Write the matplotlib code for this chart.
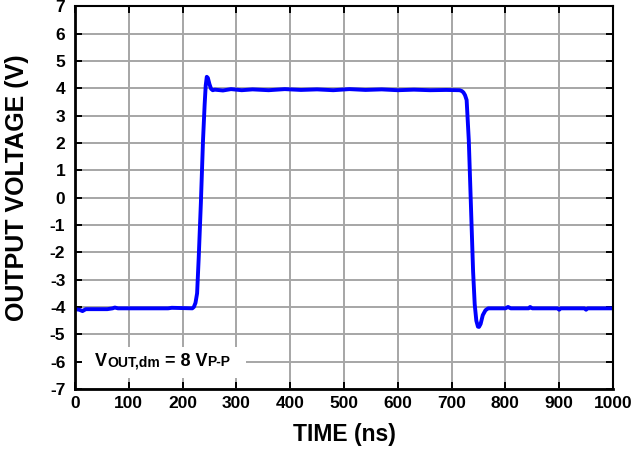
import numpy as np
import matplotlib.pyplot as plt
from matplotlib.patches import Rectangle

plt.rcParams['font.family'] = ['Liberation Sans', 'DejaVu Sans']
plt.rcParams['font.weight'] = 'bold'

# waveform (time in ns, volts)
time_ns = [0, 8, 14, 20, 60, 70, 74, 80, 140, 173, 180, 218, 221, 224, 227,
           230, 234, 238, 241, 243, 245, 247, 250, 253, 256, 260, 275, 290,
           310, 330, 360, 390, 420, 450, 480, 510, 540, 570, 600, 630, 660,
           690, 715, 719, 722, 725, 728, 732, 736, 740, 743, 746, 749, 751,
           754, 758, 763, 768, 800, 805, 810, 843, 846, 850, 897, 900, 903,
           947, 950, 953, 1000]
volts = [-4.08, -4.1, -4.15, -4.08, -4.08, -4.05, -4.02, -4.05, -4.05,
         -4.05, -4.03, -4.05, -4.0, -3.85, -3.5, -2.2, -0.2, 2.1, 3.4, 4.1,
         4.42, 4.38, 4.15, 3.98, 3.93, 3.95, 3.92, 3.97, 3.93, 3.96, 3.93,
         3.97, 3.94, 3.96, 3.93, 3.97, 3.94, 3.96, 3.93, 3.95, 3.93, 3.94,
         3.93, 3.9, 3.85, 3.75, 3.57, 2.1, -0.3, -2.7, -3.9, -4.5, -4.72,
         -4.73, -4.62, -4.3, -4.12, -4.05, -4.05, -4.0, -4.05, -4.05, -4.0,
         -4.05, -4.05, -4.1, -4.05, -4.05, -4.1, -4.05, -4.05]

x_ticks = list(range(0, 1001, 100))
y_ticks = list(range(-7, 8))

fig = plt.figure(figsize=(6.43, 4.5), dpi=100)
ax = fig.add_axes([0.1166, 0.1356, 0.8367, 0.8504])

ax.plot(time_ns, volts, color='#0000ff', lw=2.8, zorder=3,
        solid_joinstyle='round')

ax.set_xlim(0, 1000)
ax.set_ylim(-7, 7)
ax.set_xticks(x_ticks)
ax.set_xticklabels([str(v) for v in x_ticks])
ax.set_yticks(y_ticks)
ax.set_yticklabels([str(v) for v in y_ticks])
ax.grid(True, color='#a6a6a6', lw=1.4)
ax.tick_params(direction='in', length=5, width=1.4, labelsize=12.5,
               top=True, right=True)
ax.tick_params(axis='x', pad=5)
ax.tick_params(axis='y', pad=7)
for lab in ax.get_xticklabels() + ax.get_yticklabels():
    lab.set_fontweight('bold')
for s in ax.spines.values():
    s.set_linewidth(1.5)
    s.set_zorder(4)
ax.spines['left'].set_linewidth(2)
ax.spines['bottom'].set_linewidth(2)

ax.set_xlabel('TIME (ns)', fontsize=16.5, fontweight='bold', labelpad=9)
ax.set_ylabel('OUTPUT VOLTAGE (V)', fontsize=18, fontweight='bold', labelpad=6)
ax.yaxis.set_label_coords(-0.085, 0.525)

# label box: white patch over the grid, then text pieces on one baseline
ax.add_patch(Rectangle((13, -6.6), 305, 1.15, facecolor='white',
                       edgecolor='none', zorder=2))
pieces = [('V', 13), ('OUT,dm', 10), (' = 8 V', 13), ('P-P', 10)]
prev = None
for txt, size in pieces:
    if prev is None:
        prev = ax.text(37, -6.16, txt, fontsize=size, fontweight='bold',
                       ha='left', va='baseline', zorder=5)
    else:
        prev = ax.annotate(txt, xy=(1, -6.16), xycoords=(prev, 'data'),
                           fontsize=size, fontweight='bold',
                           ha='left', va='baseline', zorder=5)

fig.savefig('out.png', dpi=100)
